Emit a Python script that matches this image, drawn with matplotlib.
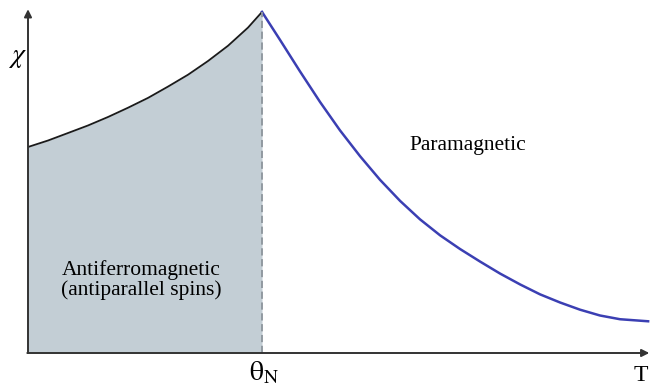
import numpy as np
import matplotlib
matplotlib.use('Agg')
import matplotlib.pyplot as plt

plt.rcParams['font.family'] = 'Liberation Serif'
plt.rcParams['mathtext.fontset'] = 'stix'

# susceptibility below the Neel temperature (ordered phase)
t_afm = [0.0, 0.0855, 0.171, 0.256, 0.342, 0.427, 0.513, 0.598, 0.684,
         0.769, 0.855, 0.940, 1.0]
chi_afm = [0.604, 0.623, 0.645, 0.667, 0.692, 0.719, 0.748, 0.781, 0.816,
           0.856, 0.901, 0.954, 1.0]

# susceptibility above the Neel temperature (paramagnetic)
t_para = [1.0, 1.077, 1.162, 1.248, 1.333, 1.419, 1.504, 1.590, 1.675, 1.761,
          1.846, 1.932, 2.017, 2.103, 2.188, 2.274, 2.359, 2.444, 2.530, 2.650]
chi_para = [1.0, 0.918, 0.826, 0.736, 0.653, 0.577, 0.508, 0.446, 0.392, 0.345,
            0.305, 0.268, 0.233, 0.201, 0.172, 0.148, 0.127, 0.110, 0.099, 0.093]

t_neel = 1.0

fig = plt.figure(figsize=(6.5, 3.87), dpi=100)
ax = fig.add_axes([28 / 650, 34 / 387, 622 / 650, 353 / 387])
ax.set_xlim(0, 2.658)
ax.set_ylim(0, 1.035)
ax.axis('off')

ax.fill_between(t_afm, chi_afm, 0, color='#c3ced5', lw=0)
ax.plot(t_afm, chi_afm, color='#1a1a1a', lw=1.3, solid_joinstyle='round')
ax.plot(t_para, chi_para, color='#3b3fb3', lw=1.8, solid_joinstyle='round')
ax.plot([t_neel, t_neel], [0, max(chi_afm)], color='#8c959c', lw=1.3,
        dashes=(4, 2))

# axes drawn as arrows
arrow = dict(arrowstyle='-|>', color='#333333', lw=1.4, mutation_scale=11,
             shrinkA=0, shrinkB=0)
ax.annotate('', xy=(0, 1.008), xytext=(0, 0), arrowprops=arrow,
            annotation_clip=False)
ax.annotate('', xy=(2.655, 0), xytext=(-0.003, 0), arrowprops=arrow,
            annotation_clip=False)

ax.text(-0.047, 0.865, r'$\chi$', fontsize=20, ha='center', va='center',
        clip_on=False)
ax.text(t_neel + 0.01, -0.058, r'$\mathrm{\theta}_{\mathrm{N}}$', fontsize=20,
        ha='center', va='center', clip_on=False)
ax.text(2.62, -0.067, 'T', fontsize=17, ha='center', va='center',
        clip_on=False)
ax.text(1.88, 0.607, 'Paramagnetic', fontsize=15.5, ha='center', va='center')
ax.text(0.483, 0.213, 'Antiferromagnetic\n(antiparallel spins)', fontsize=15.5,
        ha='center', va='center', linespacing=1.0)

fig.savefig('out.png', dpi=100)
